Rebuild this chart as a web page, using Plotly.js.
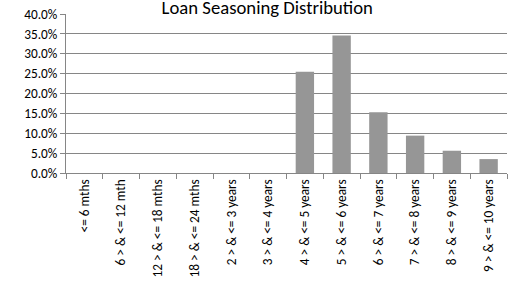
<!DOCTYPE html>
<html>
<head>
<meta charset="utf-8">
<script src="https://cdn.plot.ly/plotly-3.0.1.min.js"></script>
<style>html,body{margin:0;padding:0;background:#fff;}#chart{width:514px;height:285px;}</style>
</head>
<body>
<div id="chart"></div>
<script>
var categories = ["<= 6 mths", "6 > & <= 12 mth", "12 > & <= 18 mths", "18 > & <= 24 mths",
  "2 > & <= 3 years", "3 > & <= 4 years", "4 > & <= 5 years", "5 > & <= 6 years",
  "6 > & <= 7 years", "7 > & <= 8 years", "8 > & <= 9 years", "9 > & <= 10 years"];
var shares = [0, 0, 0, 0, 0, 0, 0.255, 0.346, 0.153, 0.094, 0.056, 0.035];
var yTicks = [0, 0.05, 0.10, 0.15, 0.20, 0.25, 0.30, 0.35, 0.40];

var font = "Carlito, Calibri, 'Open Sans', sans-serif";
var data = [{
  type: "bar",
  x: categories,
  y: shares,
  marker: {color: "#969696", line: {width: 0}},
  hoverinfo: "none"
}];
var layout = {
  width: 514, height: 285,
  margin: {l: 66, r: 7, t: 14, b: 112},
  paper_bgcolor: "#fff", plot_bgcolor: "#fff",
  bargap: 0.5,
  showlegend: false,
  title: {text: "Loan Seasoning Distribution", x: 0.52, xanchor: "center", y: 0.952, yanchor: "bottom",
          font: {family: font, size: 18.7, color: "#000"}},
  xaxis: {
    type: "category",
    tickangle: -90,
    tickson: "boundaries",
    ticks: "outside", ticklen: 5, tickcolor: "#868686",
    showline: true, linecolor: "#868686", linewidth: 1,
    showgrid: false,
    tickfont: {family: font, size: 13.3, color: "#000"},
    automargin: false
  },
  yaxis: {
    range: [0, 0.4],
    tickvals: yTicks,
    tickformat: ".1%",
    ticks: "outside", ticklen: 5, tickcolor: "#868686",
    showline: true, linecolor: "#868686", linewidth: 1,
    showgrid: true, gridcolor: "#868686", gridwidth: 1,
    zeroline: false,
    tickfont: {family: font, size: 13.3, color: "#000"},
    automargin: false
  }
};
Plotly.newPlot("chart", data, layout, {displayModeBar: false, staticPlot: true});
</script>
</body>
</html>
